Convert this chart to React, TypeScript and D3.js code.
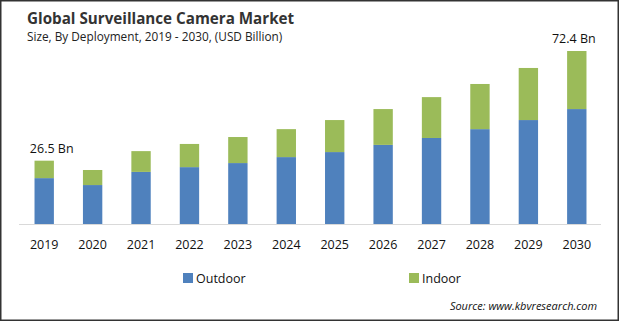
import React from "react";
import * as d3 from "d3";

const years = ["2019","2020","2021","2022","2023","2024","2025","2026","2027","2028","2029","2030"];
const outdoor = [19.2, 16.3, 21.8, 23.8, 25.5, 28.0, 30.1, 33.1, 36.0, 39.7, 43.5, 48.1];
const indoor = [7.3, 6.3, 8.7, 9.7, 10.9, 11.7, 13.4, 15.0, 17.1, 18.9, 21.8, 24.3];
const seriesNames = ["Outdoor", "Indoor"];
const colors = ["#4F81BD", "#9BBB59"];
const annotations = [{ year: "2019", text: "26.5 Bn", dx: 7.5 }, { year: "2030", text: "72.4 Bn", dx: -3 }];

const W = 620, H = 322;
const font = "'Open Sans', 'DejaVu Sans', sans-serif";

export default function App() {
  const x = d3.scaleBand<string>().domain(years).range([20, 601]).paddingInner(0.6).paddingOuter(0.3);
  const y = d3.scaleLinear().domain([0, 72.4]).range([224, 51]);
  const rows = years.map((yr, i) => ({ year: yr, Outdoor: outdoor[i], Indoor: indoor[i] }));
  const stack = d3.stack<any>().keys(seriesNames)(rows);
  const totals = years.map((_, i) => outdoor[i] + indoor[i]);

  return (
    <svg width={W} height={H} style={{ position: "absolute", left: 0, top: 0, display: "block" }}>
      <rect x={0} y={0} width={W} height={H} fill="#fff" />
      <rect x={0.75} y={0.75} width={W - 2.5} height={H - 2.5} fill="none" stroke="#333" strokeWidth={1.5} />
      <text x={27} y={24} fontFamily={font} fontWeight="bold" fontSize={15.2} fill="#333">Global Surveillance Camera Market</text>
      <text x={27} y={41} fontFamily={font} fontSize={11.8} fill="#222">Size, By Deployment,  2019 - 2030, (USD Billion)</text>
      {stack.map((s, si) => (
        <g key={si}>
          {s.map((d, i) => (
            <rect key={i} x={x(years[i])} y={y(d[1])} width={x.bandwidth()} height={y(d[0]) - y(d[1])} fill={colors[si]} />
          ))}
        </g>
      ))}
      <line x1={19} x2={601} y1={224.5} y2={224.5} stroke="#D9D9D9" strokeWidth={1} />
      {years.map((yr) => (
        <text key={yr} x={(x(yr) as number) + x.bandwidth() / 2} y={249} textAnchor="middle" fontFamily={font} fontSize={12.5} fill="#111">{yr}</text>
      ))}
      {annotations.map((a) => {
        const i = years.indexOf(a.year);
        return (
          <text key={a.year} x={(x(a.year) as number) + x.bandwidth() / 2 + a.dx} y={y(totals[i]) - 8} textAnchor="middle" fontFamily={font} fontSize={12.5} fill="#111">{a.text}</text>
        );
      })}
      {seriesNames.map((n, i) => (
        <g key={n} transform={`translate(${i === 0 ? 183 : 409},273)`}>
          <rect x={0} y={0} width={10} height={10} fill={colors[i]} />
          <text x={13} y={10} fontFamily={font} fontSize={12.5} fill="#111">{n}</text>
        </g>
      ))}
      <text x={597} y={310} textAnchor="end" fontFamily={font} fontStyle="italic" fontSize={11} fill="#111">Source: www.kbvresearch.com</text>
    </svg>
  );
}
